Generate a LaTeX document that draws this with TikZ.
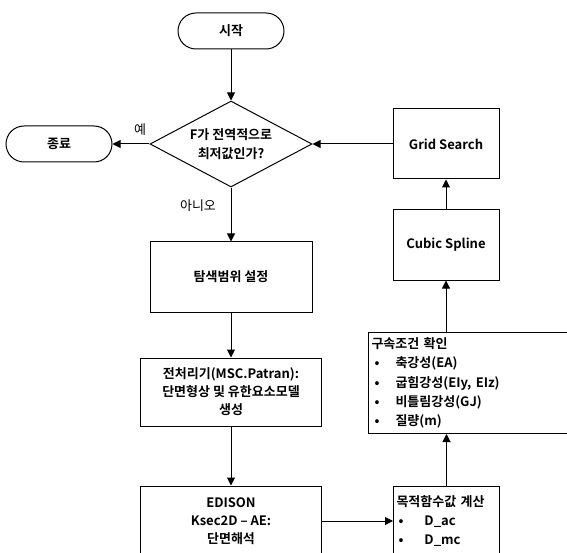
\documentclass[tikz,border=0pt]{standalone}
\usepackage{fontspec}
\setmainfont{Noto Sans CJK KR}[BoldFont={* Bold}]
\usetikzlibrary{shapes.geometric,arrows.meta,positioning}

\begin{document}
\begin{tikzpicture}[x=1pt,y=-1pt,>={Triangle[length=8pt,width=8pt]},
    every node/.style={font=\fontsize{13}{18}\selectfont\bfseries},
    term/.style={draw,line width=1pt,rounded corners=18pt,minimum width=106pt,minimum height=36pt},
    box/.style={draw,line width=1pt,align=center,inner sep=0pt},
    decision/.style={diamond,draw,line width=1pt,aspect=1.88,minimum width=162pt,minimum height=86pt,inner sep=0pt,align=center},
    lbl/.style={font=\fontsize{13}{15}\selectfont},
    flow/.style={->,line width=1pt}]
        % --- 1. Frame ---
        \useasboundingbox (0,0) rectangle (567,553);
        \clip (0,0) rectangle (567,553);

        % --- 2. Main Column ---
        \node[term] (start) at (231,31) {시작};
        \node[decision,font=\fontsize{13}{19}\selectfont\bfseries] (check) at (231,144) {F가 전역적으로\\최저값인가?};
        \node[term] (stop) at (59,144) {종료};
        \node[box,minimum width=162pt,minimum height=70pt] (range) at (231,277) {탐색범위 설정};
        \node[box,minimum width=181pt,minimum height=68pt] (prep) at (231,392) {전처리기(MSC.Patran):\\단면형상 및 유한요소모델\\생성};
        \node[box,minimum width=181pt,minimum height=70pt] (edison) at (231,521) {EDISON\\Ksec2D – AE:\\단면해석};

        % --- 3. Right Column ---
        \node[box,minimum width=106pt,minimum height=70pt] (grid) at (446,144) {Grid Search};
        \node[box,minimum width=106pt,minimum height=70pt] (spline) at (446,245) {Cubic Spline};
        \node[box,anchor=north west,minimum width=212pt,minimum height=101pt,text width=206pt,align=left,font=\fontsize{13}{19.3}\selectfont\bfseries] (limits) at (368,332)
            {구속조건 확인\\
             \hspace*{3pt}\makebox[21pt][l]{•}축강성(EA)\\
             \hspace*{3pt}\makebox[21pt][l]{•}굽힘강성(EIy, EIz)\\
             \hspace*{3pt}\makebox[21pt][l]{•}비틀림강성(GJ)\\
             \hspace*{3pt}\makebox[21pt][l]{•}질량(m)};
        \node[box,anchor=north west,minimum width=106pt,minimum height=70pt,text width=100pt,align=left,font=\fontsize{13}{19}\selectfont\bfseries] (cost) at (393,486)
            {목적함수값 계산\\
             \hspace*{2pt}\makebox[26pt][l]{•}D\_ac\\
             \hspace*{2pt}\makebox[26pt][l]{•}D\_mc};

        % --- 4. Branch Labels ---
        \node[lbl] (yes) at (140,130) {예};
        \node[lbl] (no) at (198,206) {아니오};

        % --- 5. Connectors ---
        \draw[flow] (start) -- (check);
        \draw[flow] (check) -- (stop);
        \draw[flow] (check) -- (range);
        \draw[flow] (range) -- (prep);
        \draw[flow] (prep) -- (edison);
        \draw[flow] (edison.east) -- (edison.east -| cost.west);
        \draw[flow] (cost.north) -- (cost.north |- limits.south);
        \draw[flow] (spline.south |- limits.north) -- (spline.south);
        \draw[flow] (spline) -- (grid);
        \draw[flow] (grid) -- (check);
    \end{tikzpicture}
\end{document}
